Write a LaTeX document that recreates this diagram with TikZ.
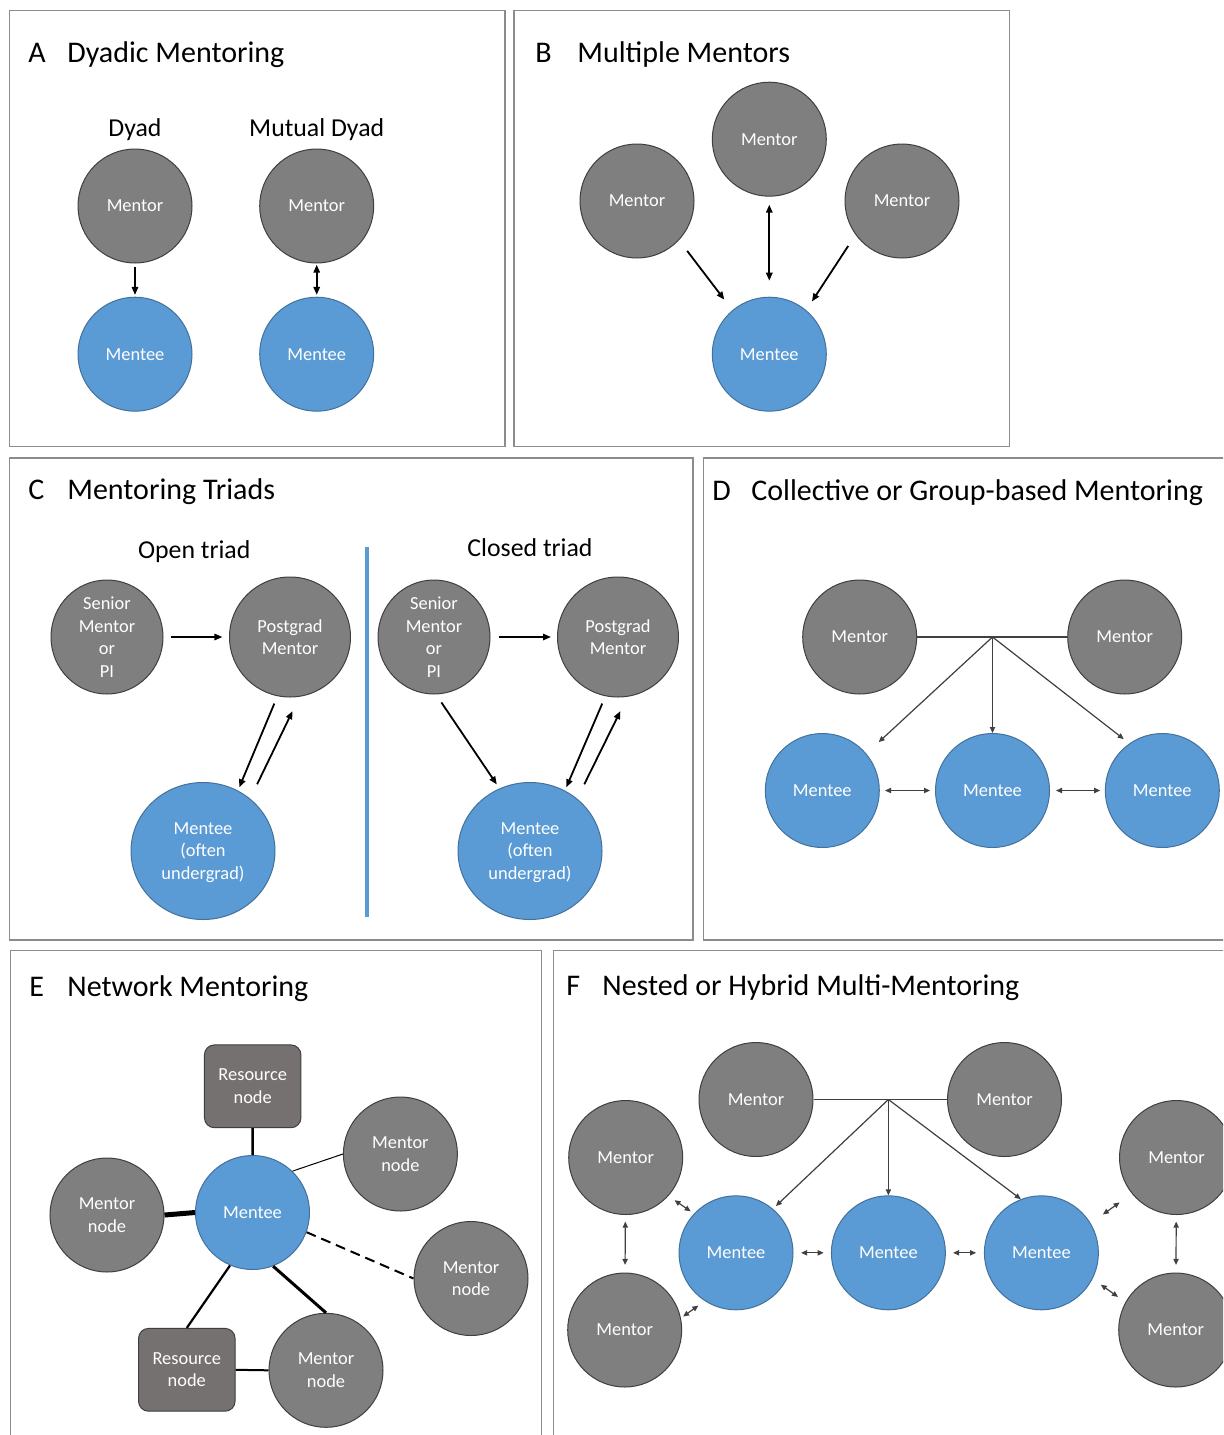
\documentclass[tikz,border=0pt]{standalone}
\usepackage{fontspec}
\setmainfont{Carlito}
\usetikzlibrary{arrows.meta,shapes.geometric,calc}
\definecolor{mentorgray}{HTML}{7F7F7F}
\definecolor{menteeblue}{HTML}{5B9BD5}
\definecolor{menteeedge}{HTML}{41719C}
\definecolor{mentoredge}{HTML}{3F3F3F}
\definecolor{resgray}{HTML}{767171}
\definecolor{framegray}{HTML}{8C8C8C}
\definecolor{arrgray}{HTML}{404040}
\begin{document}
\begin{tikzpicture}[x=0.5pt,y=-0.5pt,
  panel/.style={draw=framegray,line width=0.7pt},
  ptitle/.style={anchor=base west,inner sep=0,font=\fontsize{15}{18}\selectfont},
  psub/.style={anchor=base,inner sep=0,font=\fontsize{12.9}{15}\selectfont},
  nodetext/.style={text=white,font=\fontsize{9.2}{11.25}\selectfont,align=center,inner sep=0},
  mentor/.style={circle,nodetext,fill=mentorgray,draw=mentoredge,line width=0.5pt,minimum size=57pt},
  mentee/.style={circle,nodetext,fill=menteeblue,draw=menteeedge,line width=0.5pt,minimum size=57pt},
  senior/.style={ellipse,nodetext,inner sep=-4pt,fill=mentorgray,draw=mentoredge,line width=0.5pt,minimum width=56pt,minimum height=57pt},
  pgrad/.style={ellipse,nodetext,inner sep=-4pt,fill=mentorgray,draw=mentoredge,line width=0.5pt,minimum width=60.5pt,minimum height=60pt},
  menteeell/.style={ellipse,nodetext,inner sep=-4pt,text depth=0pt,fill=menteeblue,draw=menteeedge,line width=0.5pt,minimum width=72pt,minimum height=68.5pt},
  resource/.style={rectangle,rounded corners=5pt,nodetext,fill=resgray,draw=mentoredge,line width=0.5pt,minimum width=48.25pt,minimum height=41.4pt},
  barr/.style={draw=black,line width=0.9pt,>={Triangle[length=4pt,width=3.2pt]}},
  garr/.style={draw=arrgray,line width=0.6pt,>={Triangle[length=3pt,width=2.6pt]}},
  gline/.style={draw=arrgray,line width=0.6pt},
  blueline/.style={draw=menteeblue,line width=1.6pt}
]
\useasboundingbox (0,0) rectangle (1223,1435);
\clip (0,0) rectangle (1223,1435);
\fill[white] (0,0) rectangle (1223,1435);

% ---------- panel frames
\draw[panel] (9.5,10.5) rectangle (505,446.5);
\draw[panel] (514,10.5) rectangle (1009.5,446.5);
\draw[panel] (9.5,458) rectangle (693,940);
\draw[panel] (703.5,458) rectangle (1250,940);
\draw[panel] (10.5,950.5) rectangle (541.5,1460);
\draw[panel] (553.5,950.5) rectangle (1250,1460);

% ---------- A
\node[ptitle] (lA) at (28,62) {A};
\node[ptitle] (tA) at (67,62) {Dyadic Mentoring};
\node[psub] (sA1) at (135,136.7) {Dyad};
\node[psub] (sA2) at (316.7,136.7) {Mutual Dyad};
\node[mentor] (a1) at (135,206) {Mentor};
\node[mentee] (a2) at (135,354.2) {Mentee};
\node[mentor] (a3) at (316.7,206) {Mentor};
\node[mentee] (a4) at (316.7,354.2) {Mentee};
\draw[barr,->,shorten <=1.7pt,shorten >=0.9pt] (a1) -- (a2);
\draw[barr,<->,shorten <=0.6pt,shorten >=0.9pt] (a3) -- (a4);

% ---------- B
\node[ptitle] (lB) at (535,62) {B};
\node[ptitle] (tB) at (577,62) {Multiple Mentors};
\node[mentor] (b1) at (637,201) {Mentor};
\node[mentor] (b2) at (769.3,139.2) {Mentor};
\node[mentor] (b3) at (902,201) {Mentor};
\node[mentee] (b4) at (769.3,354.2) {Mentee};
\draw[barr,->,shorten <=6.7pt,shorten >=6.6pt] (b1.-43) -- (b4.130);
\draw[barr,<->,shorten <=4pt,shorten >=8pt] (b2) -- (b4);
\draw[barr,->,shorten <=6.7pt,shorten >=5.2pt] (b3.216) -- (b4.50);

% ---------- C
\node[ptitle] (lC) at (28,499.5) {C};
\node[ptitle] (tC) at (67,499.5) {Mentoring Triads};
\node[psub] (sC1) at (194.2,558) {Open triad};
\node[psub] (sC2) at (530,556) {Closed triad};
\coordinate (divtop) at (367,547);
\coordinate (divbot) at (367,917);
\draw[blueline] (divtop) -- (divbot);
\node[senior] (c1) at (107,637) {Senior\\Mentor\\or\\PI};
\node[pgrad] (c2) at (290,637) {Postgrad\\Mentor};
\node[menteeell] (c3) at (203,851) {Mentee\\(often\\undergrad)};
\node[senior] (c4) at (434,637) {Senior\\Mentor\\or\\PI};
\node[pgrad] (c5) at (618,637) {Postgrad\\Mentor};
\node[menteeell] (c6) at (530,851) {Mentee\\(often\\undergrad)};
\draw[barr,->,shorten <=3.5pt,shorten >=3.3pt] (c1.east) -- (c2.west);
\draw[barr,->,shorten <=4pt,shorten >=1.75pt] (c2.-102) -- (c3.60);
\draw[barr,->,shorten <=8pt,shorten >=8pt] (c3.48) -- (c2.-81.5);
\draw[barr,->,shorten <=4pt,shorten >=3pt] (c4.east) -- (c5.west);
\draw[barr,->,shorten <=4pt,shorten >=1.75pt] (c5.-102) -- (c6.60);
\draw[barr,->,shorten <=8pt,shorten >=8pt] (c6.48) -- (c5.-81.5);
\draw[barr,->,shorten <=4.8pt,shorten >=2.4pt] (c4.-88) -- (c6.116);

% ---------- D
\node[ptitle] (lD) at (712,500) {D};
\node[ptitle] (tD) at (751,500) {Collective or Group-based Mentoring};
\node[mentor] (d1) at (859.7,637) {Mentor};
\node[mentor] (d2) at (1124.7,637) {Mentor};
\node[mentee] (d3) at (822.3,790.5) {Mentee};
\node[mentee] (d4) at (992.5,790.5) {Mentee};
\node[mentee] (d5) at (1162.3,790.5) {Mentee};
\draw[gline] (d1.east) -- (d2.west);
\coordinate (dj) at (d4.north |- d1.east);
\draw[garr,->,shorten >=8.4pt] (dj) -- (d3.40);
\draw[garr,->] (dj) -- (d4);
\draw[garr,->,shorten >=3.5pt] (dj) -- (d5.125);
\draw[garr,<->,shorten <=2.6pt,shorten >=2.5pt] (d3) -- (d4);
\draw[garr,<->,shorten <=3pt,shorten >=2.3pt] (d4) -- (d5);

% ---------- E
\node[ptitle] (lE) at (29,996.7) {E};
\node[ptitle] (tE) at (67,996.7) {Network Mentoring};
\node[resource] (e1) at (252.7,1086.3) {Resource\\node};
\node[mentee] (e2) at (252.5,1212.5) {Mentee};
\node[mentor] (e3) at (107,1215) {Mentor\\node};
\node[mentor] (e4) at (400.4,1154) {Mentor\\node};
\node[mentor] (e5) at (471,1278.5) {Mentor\\node};
\node[mentor] (e6) at (326,1370.3) {Mentor\\node};
\node[resource] (e7) at (186.8,1369.8) {Resource\\node};
\draw[line width=1.25pt] (e1) -- (e2);
\draw[line width=0.5pt] (e2.46) -- (e4.180);
\draw[line width=2.5pt] (e3.east) -- (e2.west);
\draw[line width=1pt,dash pattern=on 5pt off 3pt] (e2.-20) -- (e5.west);
\draw[line width=1.5pt] (e2.-69) -- (e6.north);
\draw[line width=1.1pt] (e2.-113) -- (e7.north);
\draw[line width=1pt] (e7.east) -- (e6.west);

% ---------- F
\node[ptitle] (lF) at (566,995) {F};
\node[ptitle] (tF) at (602,995) {Nested or Hybrid Multi-Mentoring};
\node[mentor] (f1) at (756,1099.5) {Mentor};
\node[mentor] (f2) at (1004.5,1099.5) {Mentor};
\node[mentor] (f3) at (625.7,1157.5) {Mentor};
\node[mentor] (f4) at (624.7,1330) {Mentor};
\node[mentee] (f5) at (736,1252.8) {Mentee};
\node[mentee] (f6) at (888.4,1252.8) {Mentee};
\node[mentee] (f7) at (1041.4,1252.8) {Mentee};
\node[mentor] (f8) at (1176.5,1157.5) {Mentor};
\node[mentor] (f9) at (1175.7,1330) {Mentor};
\draw[gline] (f1.east) -- (f2.west);
\coordinate (fj) at (f6.north |- f1.east);
\draw[garr,->,shorten >=2pt] (fj) -- (f5.50);
\draw[garr,->] (fj) -- (f6);
\draw[garr,->] (fj) -- (f7.111);
\draw[garr,<->,shorten <=3.3pt,shorten >=3.8pt] (f3) -- (f4);
\draw[garr,<->,shorten <=3.7pt,shorten >=2pt] (f3.-42) -- (f5.137);
\draw[garr,<->,shorten <=1.3pt,shorten >=3.9pt] (f4.12) -- (f5.-123);
\draw[garr,<->,shorten <=3.8pt,shorten >=3.6pt] (f5) -- (f6);
\draw[garr,<->,shorten <=3.6pt,shorten >=3.9pt] (f6) -- (f7);
\draw[garr,<->,shorten <=7.5pt,shorten >=7.5pt] (f7.31) -- (f8.219);
\draw[garr,<->,shorten <=5pt,shorten >=4.5pt] (f7.-27) -- (f9.151);
\draw[garr,<->,shorten <=3.3pt,shorten >=3.8pt] (f8) -- (f9);
\end{tikzpicture}
\end{document}
